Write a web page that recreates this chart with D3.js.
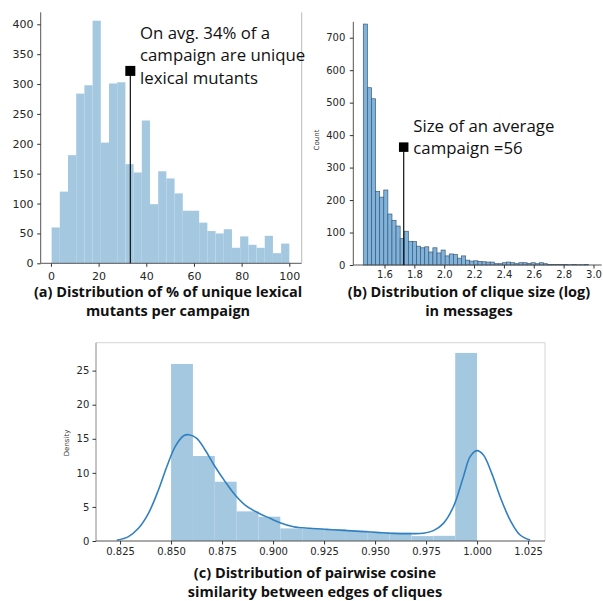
<!DOCTYPE html>
<html>
<head>
<meta charset="utf-8">
<script src="https://cdn.jsdelivr.net/npm/d3@7"></script>
<style>
body { margin: 0; background: #fff; }
.tick text { font-family: "DejaVu Sans"; fill: #262626; }
.tick line { stroke: #333; }
.title { font-family: "Open Sans"; font-weight: 700; font-size: 14.5px; text-anchor: middle; fill: #111; }
.note { font-family: "Open Sans"; font-size: 16.8px; fill: #111; }
.ylab { font-family: "DejaVu Sans"; font-size: 7px; fill: #333; text-anchor: middle; }
</style>
</head>
<body>
<svg id="chart" width="603" height="601"></svg>
<script>
// (a) % of unique lexical mutants per campaign
const aBinStart = 0.28
const aBinWidth = 3.439
const aCounts = [60,120,181,284,298,406,202,301,303,166,152,239,99,154,142,117,88,88,68,54,50,57,26,45,31,26,46,17,33]
const aTicksX = [0,20,40,60,80,100]
const aTicksY = [0,50,100,150,200,250,300,350,400]
const aMean = 33.3, aMarkerY = 322
const aNote = ["On avg. 34% of a", "campaign are unique", "lexical mutants"]

// (b) clique size (log)
const bBinStart = 1.458
const bBinWidth = 0.027427
const bCounts = [742,546,512,227,209,231,157,137,120,81,104,73,72,58,53,56,40,53,37,46,
                 28,34,32,21,28,15,12,13,11,10,9,9,4,4,7,9,7,4,7,7,5,7,4,7,4,2,2,2,2,2,1,2,1,1,2]
const bTicksX = [1.6,1.8,2.0,2.2,2.4,2.6,2.8,3.0]
const bTicksY = [0,100,200,300,400,500,600,700]
const bMean = 1.7286, bMarkerY = 363
const bNote = ["Size of an average", "campaign =56"]

// (c) pairwise cosine similarity
const cBinStart = 0.85
const cBinWidth = 0.010714
const cDensity = [25.98,12.47,8.7,4.35,3.57,1.85,1.8,1.72,1.5,1.3,1.22,0.72,0.76,27.6]
const kdeX = [0.8234,0.8291,0.8340,0.8389,0.8438,0.8479,0.8520,0.8560,0.8588,0.8626,0.8667,0.8716,0.8765,0.8814,0.8863,0.8928,
              0.8985,0.9034,0.9100,0.9181,0.9263,0.9345,0.9426,0.9508,0.9590,0.9672,0.9737,0.9786,0.9835,0.9884,0.9933,0.9966,
              0.9999,1.0031,1.0072,1.0113,1.0162,1.0211,1.0260]
const kdeY = [0.1,0.64,1.86,4.06,7.48,10.9,13.85,15.41,15.6,15.07,13.36,10.9,8.71,6.75,5.28,4.1,
              3.33,2.69,2.1,1.86,1.71,1.56,1.41,1.27,1.12,1.08,1.13,1.52,2.59,5.03,9.44,12.38,
              13.26,12.63,9.93,6.5,3.08,0.88,0.15]
const cTicksX = [0.825,0.85,0.875,0.9,0.925,0.95,0.975,1.0,1.025]
const cTicksY = [0,5,10,15,20,25]

const svg = d3.select("#chart")

function bars(g, x, y, start, width, values, fill, stroke) {
    g.selectAll("rect.bar").data(values).enter().append("rect")
        .attr("class", "bar")
        .attr("x", (d, i) => x(start + i * width))
        .attr("width", (d, i) => x(start + (i + 1) * width) - x(start + i * width))
        .attr("y", d => y(d))
        .attr("height", d => y(0) - y(d))
        .attr("fill", fill)
        .attr("stroke", stroke || "none")
        .attr("stroke-width", stroke ? 0.7 : 0)
}

function spine(x1, y1, x2, y2, color) {
    svg.append("line").attr("x1", x1).attr("y1", y1).attr("x2", x2).attr("y2", y2)
        .attr("stroke", color).attr("stroke-width", 1)
}

function axes(x, y, tx, ty, fx, fy, size, padX, padY) {
    const bottom = y.range()[0]
    const left = x.range()[0]
    const gx = svg.append("g").attr("transform", `translate(0,${bottom})`)
        .call(d3.axisBottom(x).tickValues(tx).tickFormat(fx).tickSize(3.5).tickPadding(padX))
    const gy = svg.append("g").attr("transform", `translate(${left},0)`)
        .call(d3.axisLeft(y).tickValues(ty).tickFormat(fy).tickSize(3.5).tickPadding(padY))
    gx.select(".domain").remove()
    gy.select(".domain").remove()
    gx.selectAll("text").style("font-size", size + "px")
    gy.selectAll("text").style("font-size", size + "px")
}

function marker(x, y, xv, yv, s) {
    svg.append("line").attr("x1", x(xv)).attr("x2", x(xv)).attr("y1", y(yv)).attr("y2", y(0))
        .attr("stroke", "#111").attr("stroke-width", 1.2)
    svg.append("rect").attr("x", x(xv) - s / 2).attr("y", y(yv) - s / 2)
        .attr("width", s).attr("height", s).attr("fill", "#000")
}

function note(lines, x0, y0, dy) {
    lines.forEach((t, i) => svg.append("text").attr("class", "note")
        .attr("x", x0).attr("y", y0 + i * dy).text(t))
}

function title(lines, cx, y0, dy) {
    lines.forEach((t, i) => svg.append("text").attr("class", "title")
        .attr("x", cx).attr("y", y0 + i * dy).text(t))
}

// ---- panel (a)
const xA = d3.scaleLinear().domain([-4.3, 105.2]).range([40.7, 301.7])
const yA = d3.scaleLinear().domain([0, 420]).range([263.3, 12.35])
bars(svg.append("g"), xA, yA, aBinStart, aBinWidth, aCounts, "#a5c8e1")
spine(40.7, 12.35, 40.7, 263.3, "#555")
spine(40.7, 263.3, 301.7, 263.3, "#555")
spine(301.7, 12.35, 301.7, 263.3, "#bbb")
axes(xA, yA, aTicksX, aTicksY, d3.format("d"), d3.format("d"), 11, 5, 3.7)
marker(xA, yA, aMean, aMarkerY, 10)
note(aNote, 140, 38.5, 22.5)
title(["(a) Distribution of % of unique lexical", "mutants per campaign"], 168, 296.5, 19.5)

// ---- panel (b)
const xB = d3.scaleLinear().domain([1.391, 3.055]).range([353.3, 601.7])
const yB = d3.scaleLinear().domain([0, 749]).range([265, 21.8])
bars(svg.append("g"), xB, yB, bBinStart, bBinWidth, bCounts, "#80b3dc", "#3d5a74")
spine(353.3, 21.8, 353.3, 265, "#555")
spine(353.3, 265, 601.7, 265, "#555")
axes(xB, yB, bTicksX, bTicksY, d3.format(".1f"), d3.format("d"), 10, 2.6, 4.5)
svg.append("text").attr("class", "ylab")
    .attr("transform", "translate(318.5,140) rotate(-90)").text("Count")
marker(xB, yB, bMean, bMarkerY, 9.5)
note(bNote, 413.3, 131.7, 22.5)
title(["(b) Distribution of clique size (log)", "in messages"], 469, 296.5, 19.5)

// ---- panel (c)
const xC = d3.scaleLinear().domain([0.8132, 1.0333]).range([96, 545])
const yC = d3.scaleLinear().domain([0, 29.1]).range([541, 342.7])
bars(svg.append("g"), xC, yC, cBinStart, cBinWidth, cDensity, "#a5c8e1")
const kde = d3.line().x(d => xC(d[0])).y(d => yC(d[1])).curve(d3.curveCatmullRom)
svg.append("path").datum(d3.zip(kdeX, kdeY)).attr("d", kde)
    .attr("fill", "none").attr("stroke", "#3180bf").attr("stroke-width", 1.6)
spine(96, 342.7, 545, 342.7, "#d6d6d6")
spine(545, 342.7, 545, 541, "#d6d6d6")
spine(96, 342.7, 96, 541, "#888")
spine(96, 541, 545, 541, "#555")
axes(xC, yC, cTicksX, cTicksY, d3.format(".3f"), d3.format("d"), 10, 3.4, 3.2)
svg.append("text").attr("class", "ylab")
    .attr("transform", "translate(68.5,443) rotate(-90)").text("Density")
title(["(c) Distribution of pairwise cosine", "similarity between edges of cliques"], 315, 578, 19.3)
</script>
</body>
</html>
